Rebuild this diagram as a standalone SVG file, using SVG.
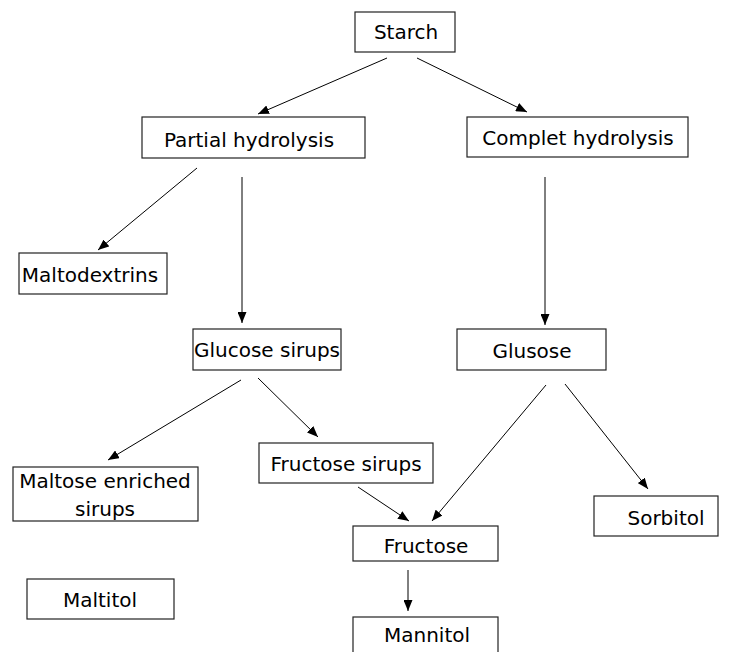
<svg xmlns="http://www.w3.org/2000/svg" width="736" height="652" viewBox="0 0 736 652">
<style>
.box{fill:#fff;stroke:#222;stroke-width:1.2}
.lbl{font-family:"DejaVu Sans","Liberation Sans",sans-serif;font-size:20px;fill:#000;text-anchor:middle}
.arr{stroke:#000;stroke-width:1;fill:none;marker-end:url(#ah)}
</style>
<defs>
<marker id="ah" markerUnits="userSpaceOnUse" markerWidth="11" markerHeight="9" refX="11" refY="4.5" orient="auto">
<path d="M0,0 L11,4.5 L0,9 z" fill="#000"/>
</marker>
</defs>
<rect width="736" height="652" fill="#fff"/>
<g id="connectors">
<line class="arr" x1="387" y1="58" x2="258" y2="114"/>
<line class="arr" x1="417" y1="58" x2="527" y2="112"/>
<line class="arr" x1="197" y1="168" x2="98" y2="250"/>
<line class="arr" x1="242" y1="177" x2="242" y2="323"/>
<line class="arr" x1="545" y1="177" x2="545" y2="325"/>
<line class="arr" x1="241" y1="380" x2="108" y2="460"/>
<line class="arr" x1="258" y1="378" x2="318" y2="437"/>
<line class="arr" x1="358" y1="487" x2="409" y2="521"/>
<line class="arr" x1="546" y1="385" x2="432" y2="521"/>
<line class="arr" x1="565" y1="384" x2="648" y2="489"/>
<line class="arr" x1="408" y1="570" x2="408" y2="611"/>
</g>
<g id="starch"><rect class="box" x="355" y="12" width="100" height="40"/><text class="lbl" x="406" y="39">Starch</text></g>
<g id="partial"><rect class="box" x="142" y="117" width="223" height="41"/><text class="lbl" x="249" y="147">Partial hydrolysis</text></g>
<g id="complet"><rect class="box" x="467" y="117" width="221" height="40"/><text class="lbl" x="578" y="145">Complet hydrolysis</text></g>
<g id="maltodextrins"><rect class="box" x="19" y="253" width="148" height="41"/><text class="lbl" x="90" y="282">Maltodextrins</text></g>
<g id="glucose-sirups"><rect class="box" x="193" y="329" width="148" height="41"/><text class="lbl" x="267" y="357">Glucose sirups</text></g>
<g id="glusose"><rect class="box" x="457" y="329" width="149" height="41"/><text class="lbl" x="532" y="358">Glusose</text></g>
<g id="maltose"><rect class="box" x="13" y="467" width="185" height="54"/><text class="lbl" x="105" y="488">Maltose enriched</text><text class="lbl" x="105" y="516">sirups</text></g>
<g id="fructose-sirups"><rect class="box" x="259" y="443" width="174" height="40"/><text class="lbl" x="346" y="471">Fructose sirups</text></g>
<g id="fructose"><rect class="box" x="353" y="526" width="145" height="35"/><text class="lbl" x="426" y="553">Fructose</text></g>
<g id="sorbitol"><rect class="box" x="594" y="496" width="124" height="40"/><text class="lbl" x="666" y="525">Sorbitol</text></g>
<g id="maltitol"><rect class="box" x="27" y="579" width="147" height="40"/><text class="lbl" x="100" y="607">Maltitol</text></g>
<g id="mannitol"><rect class="box" x="353" y="617" width="145" height="40"/><text class="lbl" x="427" y="642">Mannitol</text></g>
</svg>
